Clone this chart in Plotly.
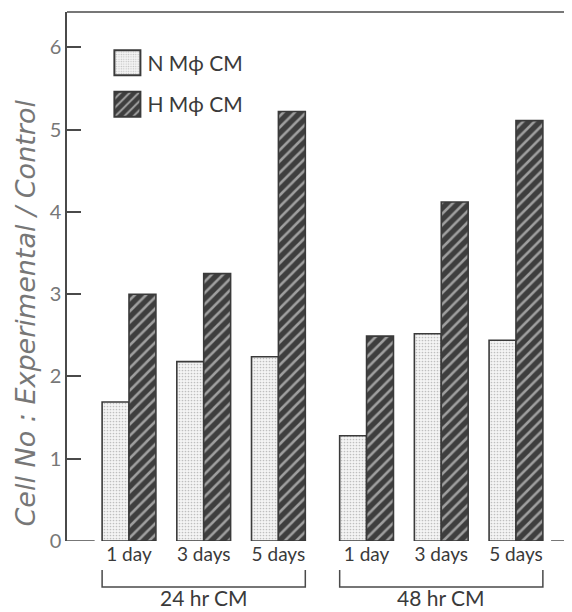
import plotly.graph_objects as go

days = ["1 day", "3 days", "5 days", "1 day", "3 days", "5 days"]
groups = ["24 hr CM", "48 hr CM"]
n_mphi = [1.69, 2.18, 2.24, 1.28, 2.52, 2.44]
h_mphi = [3.00, 3.25, 5.22, 2.49, 4.12, 5.11]
series_names = ["N M\u03d5 CM", "H M\u03d5 CM"]
y_title = "Cell No : Experimental / Control"

# x positions: three days per group, extra gap between groups
GAP = 0.18
pos = [i + (GAP if i >= 3 else 0) for i in range(len(days))]
BW = 0.36
XR = [-0.83, 5.93]
YR = [0, 6.43]

FONT = "Lato"
AX = "#4a4a4a"

fig = go.Figure()
fig.add_bar(
    x=pos, y=n_mphi, name=series_names[0], legendgroup="n",
    marker=dict(color="#f1f1f1", line=dict(color="#3a3a3a", width=1.6),
                pattern=dict(shape=".", fgcolor="#8a8a8a", bgcolor="#f4f4f4",
                             size=3, solidity=0.25)),
)
fig.add_bar(
    x=pos, y=h_mphi, name=series_names[1], legendgroup="h",
    marker=dict(color="#3e3e3e", line=dict(color="#3a3a3a", width=1.6),
                pattern=dict(shape="/", fgcolor="#ffffff", bgcolor="#3e3e3e",
                             size=8, solidity=0.32)),
)

shapes = [
    # top frame line
    dict(type="line", xref="paper", yref="paper", x0=0, x1=1, y0=1, y1=1,
         line=dict(color=AX, width=1.5)),
    # baseline stubs at zero
    dict(type="line", xref="x", yref="y", x0=XR[0], x1=pos[0] - BW - 0.1, y0=0, y1=0,
         line=dict(color=AX, width=1.5)),
    dict(type="line", xref="x", yref="y", x0=pos[-1] + BW + 0.11, x1=XR[1], y0=0, y1=0,
         line=dict(color=AX, width=1.5)),
]
annotations = [
    dict(text=f"<i>{y_title}</i>", xref="paper", yref="paper", x=-0.084, y=0.431,
         xanchor="center", yanchor="middle", textangle=-90, showarrow=False,
         font=dict(family="DejaVu Sans", size=27, color="#777777")),
]
for g, (a, b) in enumerate([(0, 2), (3, 5)]):
    x0 = pos[a] - BW
    x1 = pos[b] + BW
    shapes.append(dict(type="path", xref="x", yref="paper",
                       path=f"M {x0} -0.055 L {x0} -0.087 L {x1} -0.087 L {x1} -0.055",
                       line=dict(color=AX, width=1.5)))
    annotations.append(dict(x=(x0 + x1) / 2, y=-0.107, xref="x", yref="paper",
                            text=groups[g], showarrow=False, yanchor="middle",
                            font=dict(family=FONT, size=21, color="#3a3a3a")))

fig.update_layout(
    width=564, height=604,
    margin=dict(l=59, r=0, t=4, b=71),
    paper_bgcolor="white", plot_bgcolor="white",
    barmode="group", bargap=0.28, bargroupgap=0,
    font=dict(family=FONT, color="#3a3a3a"),
    showlegend=True,
    legend=dict(x=0.08, y=0.942, xanchor="left", yanchor="top",
                bgcolor="rgba(0,0,0,0)", font=dict(family=FONT, size=21, color="#3a3a3a"),
                itemsizing="constant", tracegroupgap=11, traceorder="grouped"),
    xaxis=dict(range=XR, tickvals=pos, ticktext=days, showgrid=False, zeroline=False,
               showline=False, ticks="", tickfont=dict(family=FONT, size=19, color="#3a3a3a")),
    yaxis=dict(range=YR, tickvals=[0, 1, 2, 3, 4, 5, 6], showgrid=False, zeroline=False,
               showline=True, linecolor=AX, linewidth=1.5,
               ticks="inside", ticklen=14, tickcolor=AX, tickwidth=1.5,
               tickfont=dict(family=FONT, size=20, color="#777777")),
    shapes=shapes, annotations=annotations,
)

post = """
var gd = document.getElementById('{plot_id}');
function bigSwatches(){
  gd.querySelectorAll('.legend .legendpoints path').forEach(function(p){
    p.setAttribute('d', 'M13,12.5H-13V-12.5H13Z');
  });
}
bigSwatches();
gd.on('plotly_afterplot', bigSwatches);
"""

fig.write_html("out.html", post_script=post)
